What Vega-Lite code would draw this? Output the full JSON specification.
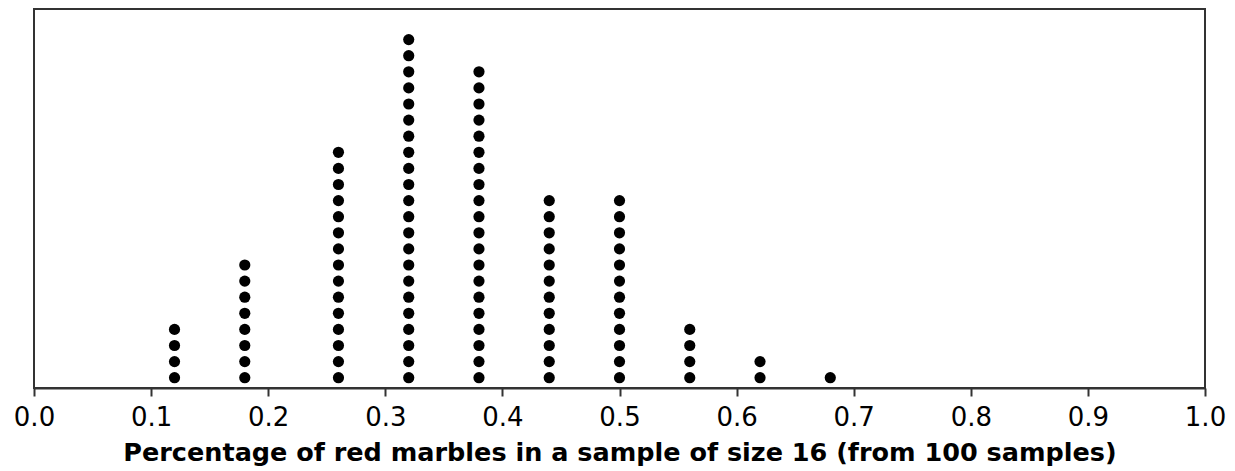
{
  "$schema": "https://vega.github.io/schema/vega-lite/v6.json",
  "width": 1171,
  "height": 379,
  "autosize": {"type": "none"},
  "padding": {"left": 34, "top": 9, "right": 30, "bottom": 83},
  "background": "white",
  "config": {
    "view": {"stroke": "#333333", "strokeWidth": 2},
    "font": "DejaVu Sans"
  },
  "datasets": {
    "dots": [
      {"p": 0.12, "n": 1}, {"p": 0.12, "n": 2}, {"p": 0.12, "n": 3}, {"p": 0.12, "n": 4},
      {"p": 0.18, "n": 1}, {"p": 0.18, "n": 2}, {"p": 0.18, "n": 3}, {"p": 0.18, "n": 4},
      {"p": 0.18, "n": 5}, {"p": 0.18, "n": 6}, {"p": 0.18, "n": 7}, {"p": 0.18, "n": 8},
      {"p": 0.26, "n": 1}, {"p": 0.26, "n": 2}, {"p": 0.26, "n": 3}, {"p": 0.26, "n": 4},
      {"p": 0.26, "n": 5}, {"p": 0.26, "n": 6}, {"p": 0.26, "n": 7}, {"p": 0.26, "n": 8},
      {"p": 0.26, "n": 9}, {"p": 0.26, "n": 10}, {"p": 0.26, "n": 11}, {"p": 0.26, "n": 12},
      {"p": 0.26, "n": 13}, {"p": 0.26, "n": 14}, {"p": 0.26, "n": 15},
      {"p": 0.32, "n": 1}, {"p": 0.32, "n": 2}, {"p": 0.32, "n": 3}, {"p": 0.32, "n": 4},
      {"p": 0.32, "n": 5}, {"p": 0.32, "n": 6}, {"p": 0.32, "n": 7}, {"p": 0.32, "n": 8},
      {"p": 0.32, "n": 9}, {"p": 0.32, "n": 10}, {"p": 0.32, "n": 11}, {"p": 0.32, "n": 12},
      {"p": 0.32, "n": 13}, {"p": 0.32, "n": 14}, {"p": 0.32, "n": 15}, {"p": 0.32, "n": 16},
      {"p": 0.32, "n": 17}, {"p": 0.32, "n": 18}, {"p": 0.32, "n": 19}, {"p": 0.32, "n": 20},
      {"p": 0.32, "n": 21}, {"p": 0.32, "n": 22},
      {"p": 0.38, "n": 1}, {"p": 0.38, "n": 2}, {"p": 0.38, "n": 3}, {"p": 0.38, "n": 4},
      {"p": 0.38, "n": 5}, {"p": 0.38, "n": 6}, {"p": 0.38, "n": 7}, {"p": 0.38, "n": 8},
      {"p": 0.38, "n": 9}, {"p": 0.38, "n": 10}, {"p": 0.38, "n": 11}, {"p": 0.38, "n": 12},
      {"p": 0.38, "n": 13}, {"p": 0.38, "n": 14}, {"p": 0.38, "n": 15}, {"p": 0.38, "n": 16},
      {"p": 0.38, "n": 17}, {"p": 0.38, "n": 18}, {"p": 0.38, "n": 19}, {"p": 0.38, "n": 20},
      {"p": 0.44, "n": 1}, {"p": 0.44, "n": 2}, {"p": 0.44, "n": 3}, {"p": 0.44, "n": 4},
      {"p": 0.44, "n": 5}, {"p": 0.44, "n": 6}, {"p": 0.44, "n": 7}, {"p": 0.44, "n": 8},
      {"p": 0.44, "n": 9}, {"p": 0.44, "n": 10}, {"p": 0.44, "n": 11}, {"p": 0.44, "n": 12},
      {"p": 0.5, "n": 1}, {"p": 0.5, "n": 2}, {"p": 0.5, "n": 3}, {"p": 0.5, "n": 4},
      {"p": 0.5, "n": 5}, {"p": 0.5, "n": 6}, {"p": 0.5, "n": 7}, {"p": 0.5, "n": 8},
      {"p": 0.5, "n": 9}, {"p": 0.5, "n": 10}, {"p": 0.5, "n": 11}, {"p": 0.5, "n": 12},
      {"p": 0.56, "n": 1}, {"p": 0.56, "n": 2}, {"p": 0.56, "n": 3}, {"p": 0.56, "n": 4},
      {"p": 0.62, "n": 1}, {"p": 0.62, "n": 2},
      {"p": 0.68, "n": 1}
    ]
  },
  "data": {"name": "dots"},
  "mark": {"type": "circle", "color": "black", "opacity": 1, "size": 125},
  "encoding": {
    "x": {
      "field": "p",
      "type": "quantitative",
      "scale": {"domain": [0, 1], "nice": false, "zero": false},
      "axis": {
        "values": [0, 0.1, 0.2, 0.3, 0.4, 0.5, 0.6, 0.7, 0.8, 0.9, 1.0],
        "format": ".1f",
        "grid": false,
        "domainColor": "#333333",
        "domainWidth": 2,
        "tickColor": "#333333",
        "tickWidth": 2,
        "tickSize": 8,
        "labelFontSize": 26,
        "labelColor": "black",
        "labelPadding": 8,
        "labelFlush": false,
        "labelOverlap": false,
        "title": "Percentage of red marbles in a sample of size 16 (from 100 samples)",
        "titleFontSize": 25.5,
        "titleFontWeight": "bold",
        "titleColor": "black",
        "titlePadding": 10
      }
    },
    "y": {
      "field": "n",
      "type": "quantitative",
      "scale": {"domain": [0.36, 23.9], "nice": false, "zero": false},
      "axis": null
    }
  }
}
